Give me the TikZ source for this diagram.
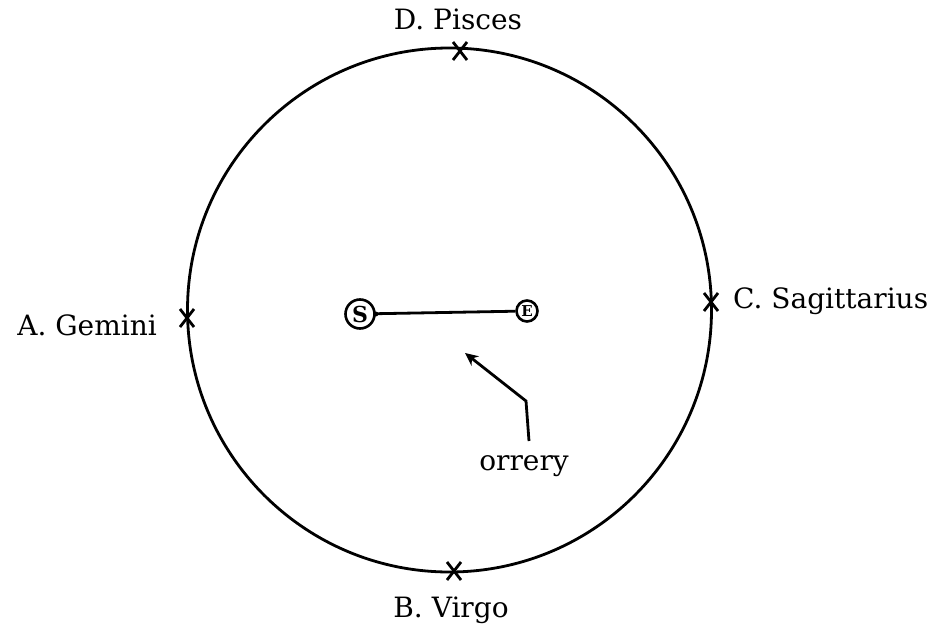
\documentclass[tikz,border=0pt]{standalone}
\usepackage{fontspec}
\setmainfont{DejaVu Serif}
\usetikzlibrary{arrows.meta,calc}
\begin{document}
\begin{tikzpicture}[x=1pt,y=-1pt,
  lbl/.style={font=\fontsize{28}{32}\selectfont, inner sep=0pt},
  body/.style={circle, draw, line width=2.6pt, inner sep=0pt},
  xmark/.style={line width=2.8pt},
  ln/.style={line width=2.8pt}]
\useasboundingbox (0,0) rectangle (937,626);
% orbit circle
\node[circle, draw, line width=2.8pt, minimum size=524pt, inner sep=0pt] (orbit) at (449.5,310) {};
% crosses
\foreach \n/\x/\y in {D/460/51, A/187/318, C/711/302, B/454/571}{
  \coordinate (\n) at (\x,\y);
  \draw[xmark] ($(\n)+(-7,-9)$) -- ($(\n)+(7,9)$);
  \draw[xmark] ($(\n)+(-7,9)$) -- ($(\n)+(7,-9)$);
}
% labels
\node[lbl, anchor=base] (tD) at (458,30) {D. Pisces};
\node[lbl, anchor=base east] (tA) at (157,335) {A. Gemini};
\node[lbl, anchor=base west] (tC) at (733,308) {C. Sagittarius};
\node[lbl, anchor=base] (tB) at (451,617) {B. Virgo};
\node[lbl, anchor=base] (tO) at (524,470) {orrery};
% sun and earth
\node[body, minimum size=29pt, font=\fontsize{22}{24}\selectfont\bfseries] (S) at (360,314) {S};
\node[body, minimum size=21pt, font=\fontsize{15}{16}\selectfont\bfseries] (E) at (527,311) {E};
\draw[ln] (S) -- (E);
\fill (S.east) circle (2.5pt);
% arrow
\coordinate (a0) at (529,441);
\coordinate (a1) at (526,401);
\coordinate (a2) at (465,353);
\draw[ln, -{Stealth[length=13pt,width=12pt]}] (a0) -- (a1) -- (a2);
\end{tikzpicture}
\end{document}
